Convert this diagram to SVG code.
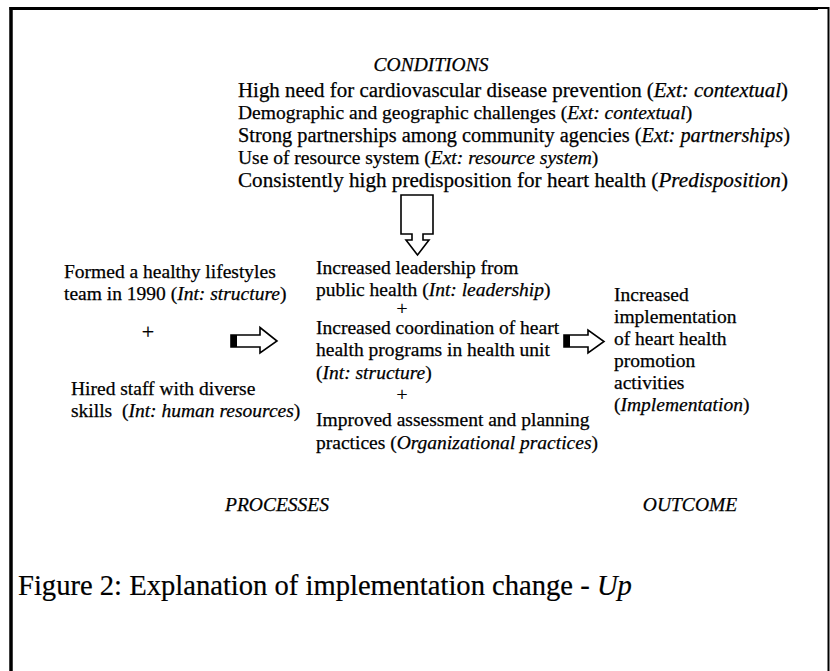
<svg xmlns="http://www.w3.org/2000/svg" width="830" height="671" viewBox="0 0 830 671">
<style>
text{font-family:"Liberation Serif","Times New Roman",serif;fill:#000;font-size:19.5px;stroke:#000;stroke-width:0.25}
.i{font-style:italic}
.cond{font-size:20px}
.plus{font-size:22px}
.cap{font-size:28.6px;stroke-width:0.2}
.ol{fill:#fff;stroke:#000;stroke-width:1.6}
</style>
<rect width="830" height="671" fill="#fff"/>
<g id="frame" stroke="#000" fill="none">
<line x1="11" y1="7" x2="11" y2="671" stroke-width="3.5"/>
<line x1="9.5" y1="8.5" x2="818" y2="8.5" stroke-width="3"/>
<line x1="818" y1="8" x2="829" y2="8" stroke-width="2"/>
<line x1="828.5" y1="7" x2="828.5" y2="671" stroke-width="2"/>
</g>
<g id="conditions">
<text class="i" x="431" y="71" text-anchor="middle">CONDITIONS</text>
<text class="cond" x="238" y="97" textLength="550" lengthAdjust="spacingAndGlyphs">High need for cardiovascular disease prevention (<tspan class="i">Ext: contextual</tspan>)</text>
<text x="238" y="119">Demographic and geographic challenges (<tspan class="i">Ext: contextual</tspan>)</text>
<text class="cond" x="238" y="142" textLength="552" lengthAdjust="spacingAndGlyphs">Strong partnerships among community agencies (<tspan class="i">Ext: partnerships</tspan>)</text>
<text x="238" y="164">Use of resource system (<tspan class="i">Ext: resource system</tspan>)</text>
<text class="cond" x="238" y="187" textLength="550" lengthAdjust="spacingAndGlyphs">Consistently high predisposition for heart health (<tspan class="i">Predisposition</tspan>)</text>
</g>
<g id="left">
<text x="64" y="278">Formed a healthy lifestyles</text>
<text x="64" y="300">team in 1990 (<tspan class="i">Int: structure</tspan>)</text>
<text class="plus" x="148" y="339" text-anchor="middle">+</text>
<text x="71" y="395">Hired staff with diverse</text>
<text x="71" y="417" xml:space="preserve">skills  (<tspan class="i">Int: human resources</tspan>)</text>
</g>
<g id="processes">
<text x="316" y="274">Increased leadership from</text>
<text x="316" y="296">public health (<tspan class="i">Int: leadership</tspan>)</text>
<text x="402" y="315" text-anchor="middle">+</text>
<text x="316" y="334">Increased coordination of heart</text>
<text x="316" y="356">health programs in health unit</text>
<text x="316" y="379">(<tspan class="i">Int: structure</tspan>)</text>
<text x="402" y="401" text-anchor="middle">+</text>
<text x="316" y="426">Improved assessment and planning</text>
<text x="316" y="449">practices (<tspan class="i">Organizational practices</tspan>)</text>
</g>
<g id="outcome">
<text x="614" y="301">Increased</text>
<text x="614" y="323">implementation</text>
<text x="614" y="345">of heart health</text>
<text x="614" y="367">promotion</text>
<text x="614" y="389">activities</text>
<text x="614" y="411">(<tspan class="i">Implementation</tspan>)</text>
</g>
<g id="labels">
<text class="i" x="277" y="511" text-anchor="middle">PROCESSES</text>
<text class="i" x="690" y="511" text-anchor="middle">OUTCOME</text>
<text class="cap" x="18" y="595">Figure 2: Explanation of implementation change - <tspan class="i">Up</tspan></text>
</g>
<g id="connectors">
<polygon class="ol" points="401,195 433,195 433,234 423,234 423,240 429,240 417.5,255 406,240 412,240 412,234 401,234"/>
<polygon class="ol" points="231,335 260,335 260,327.5 277,341 260,353 260,347 231,347"/>
<rect x="231" y="335" width="6" height="12" fill="#000"/>
<polygon class="ol" points="564,335 588,335 588,330 604,341.5 588,353 588,347 564,347"/>
<rect x="564" y="335" width="6" height="12" fill="#000"/>
</g>
</svg>
